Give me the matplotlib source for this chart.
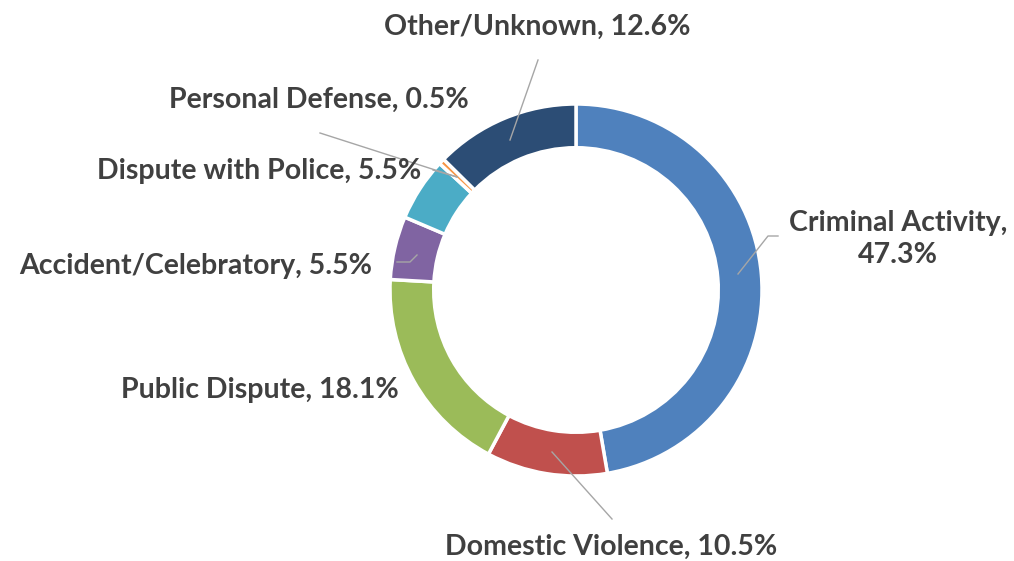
import matplotlib
matplotlib.use("Agg")
import matplotlib.pyplot as plt

categories = ["Criminal Activity", "Domestic Violence", "Public Dispute",
              "Accident/Celebratory", "Dispute with Police", "Personal Defense",
              "Other/Unknown"]
values = [47.3, 10.5, 18.1, 5.5, 5.5, 0.5, 12.6]
colors = ["#4F81BD", "#C0504D", "#9BBB59", "#8064A2", "#4BACC6", "#F79646", "#2C4D75"]

W, H = 1014, 561
fig = plt.figure(figsize=(W / 100, H / 100), dpi=100)
ax = fig.add_axes([0, 0, 1, 1])
ax.set_xlim(0, W)
ax.set_ylim(0, H)
ax.set_aspect("equal")
ax.axis("off")

cx, cy, R = 576, H - 290, 186
ax.pie(values, colors=colors, startangle=90, counterclock=False,
       center=(cx, cy), radius=R,
       wedgeprops=dict(width=R * 0.235, edgecolor="white", linewidth=2.5))
ax.set_xlim(0, W)
ax.set_ylim(0, H)

# label positions (pixel, y-down) and leader lines
labels = [
    ("{}, {:.1f}%".format(categories[0], values[0]).replace(", ", ",\n"), (898, 239)),
    ("{}, {:.1f}%".format(categories[1], values[1]), (611, 547)),
    ("{}, {:.1f}%".format(categories[2], values[2]), (260, 390)),
    ("{}, {:.1f}%".format(categories[3], values[3]), (196, 266)),
    ("{}, {:.1f}%".format(categories[4], values[4]), (259, 171)),
    ("{}, {:.1f}%".format(categories[5], values[5]), (319, 100)),
    ("{}, {:.1f}%".format(categories[6], values[6]), (537, 27)),
]
for txt, (x, y) in labels:
    ax.text(x, H - y, txt, ha="center", va="center", fontsize=20.5, fontweight="bold",
            family=["Lato", "DejaVu Sans"], color="#404040", linespacing=1.3)

leaders = [
    [(738, 274), (768, 236), (778, 236)],
    [(552, 452), (612, 519)],
    [(397, 262), (410, 262), (417, 255)],
    [(433, 170), (457, 177)],
    [(320, 133), (457, 177)],
    [(538, 60), (510, 140)],
]
for pts in leaders:
    xs = [p[0] for p in pts]
    ys = [H - p[1] for p in pts]
    ax.plot(xs, ys, color="#A6A6A6", lw=1)

fig.savefig("out.png", dpi=100, facecolor="white")
